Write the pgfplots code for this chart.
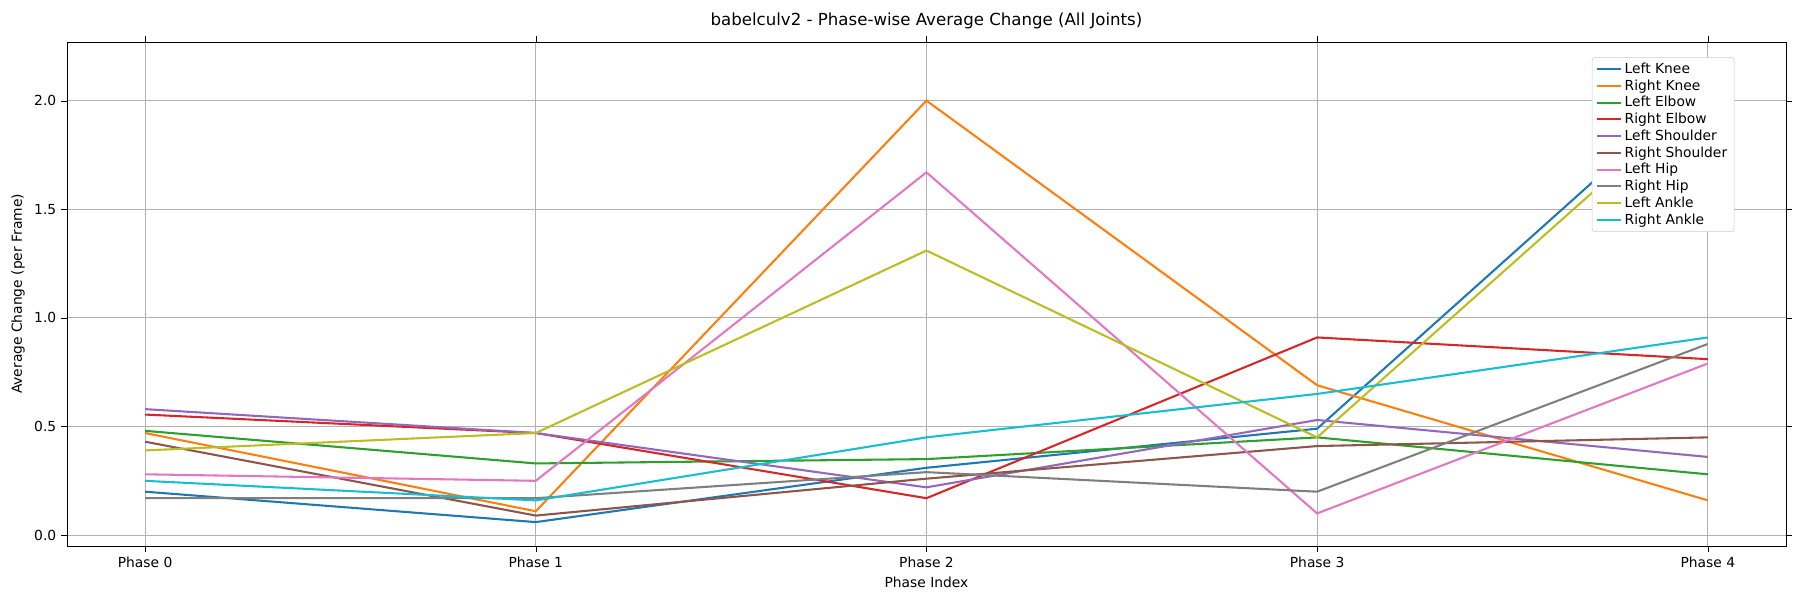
\documentclass[border=0pt]{standalone}
\usepackage{pgfplots}
\pgfplotsset{compat=1.18}
\usepackage{fontspec}
\setmainfont{DejaVu Sans}
\definecolor{c0}{HTML}{1F77B4}\definecolor{c1}{HTML}{FF7F0E}\definecolor{c2}{HTML}{2CA02C}
\definecolor{c3}{HTML}{D62728}\definecolor{c4}{HTML}{9467BD}\definecolor{c5}{HTML}{8C564B}
\definecolor{c6}{HTML}{E377C2}\definecolor{c7}{HTML}{7F7F7F}\definecolor{c8}{HTML}{BCBD22}
\definecolor{c9}{HTML}{17BECF}
\begin{document}
\begin{tikzpicture}
\path (-0.67in,-0.58in) rectangle (17.33in,0.42in+5.04in);
\begin{axis}[scale only axis, width=17.19in, height=5.04in,
 xmin=-0.2, xmax=4.2, ymin=-0.05, ymax=2.27,
 xtick={0,1,2,3,4}, xticklabels={Phase 0,Phase 1,Phase 2,Phase 3,Phase 4},
 ytick={0,0.5,1,1.5,2},
 yticklabel style={/pgf/number format/fixed,/pgf/number format/fixed zerofill,/pgf/number format/precision=1},
 /pgf/number format/assume math mode=true,
 grid=major, grid style={gray!60, line width=0.8pt},
 tick align=outside, tick style={black}, 
 ticklabel style={font=\fontsize{10}{12}\selectfont},
 xlabel={Phase Index}, ylabel={Average Change (per Frame)},
 label style={font=\fontsize{10}{12}\selectfont},
 title={babelculv2 - Phase-wise Average Change (All Joints)},
 title style={font=\fontsize{12}{14}\selectfont},
 legend pos=north east,
 legend style={font=\fontsize{10}{12}\selectfont, draw=gray!40, rounded corners=2pt, row sep=-1pt},
 legend cell align=left,
 every axis plot/.append style={line width=1.5pt}]
\addplot[c0] coordinates {(0,0.20)(1,0.06)(2,0.31)(3,0.49)(4,2.10)};
\addplot[c1] coordinates {(0,0.47)(1,0.11)(2,2.00)(3,0.69)(4,0.16)};
\addplot[c2] coordinates {(0,0.48)(1,0.33)(2,0.35)(3,0.45)(4,0.28)};
\addplot[c3] coordinates {(0,0.555)(1,0.47)(2,0.17)(3,0.91)(4,0.81)};
\addplot[c4] coordinates {(0,0.58)(1,0.47)(2,0.22)(3,0.53)(4,0.36)};
\addplot[c5] coordinates {(0,0.43)(1,0.09)(2,0.26)(3,0.41)(4,0.45)};
\addplot[c6] coordinates {(0,0.28)(1,0.25)(2,1.67)(3,0.10)(4,0.79)};
\addplot[c7] coordinates {(0,0.17)(1,0.17)(2,0.29)(3,0.20)(4,0.88)};
\addplot[c8] coordinates {(0,0.39)(1,0.47)(2,1.31)(3,0.45)(4,2.05)};
\addplot[c9] coordinates {(0,0.25)(1,0.16)(2,0.45)(3,0.65)(4,0.91)};
\legend{Left Knee,Right Knee,Left Elbow,Right Elbow,Left Shoulder,Right Shoulder,Left Hip,Right Hip,Left Ankle,Right Ankle}
\end{axis}
\end{tikzpicture}
\end{document}
